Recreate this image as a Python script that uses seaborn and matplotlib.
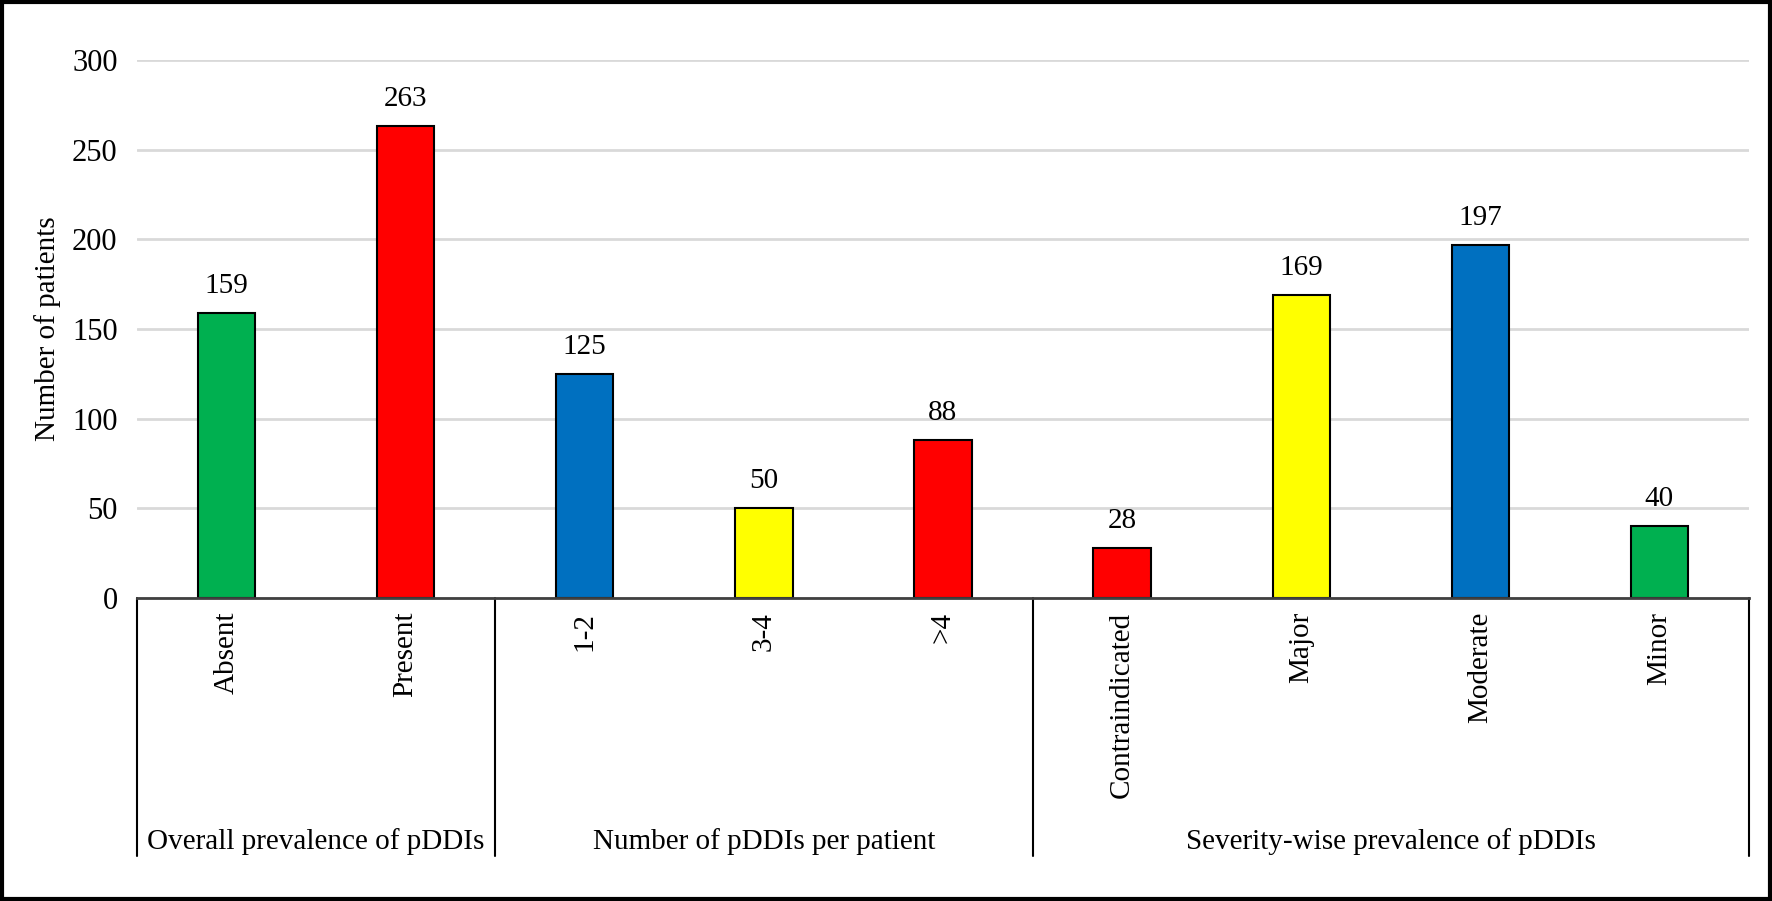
import numpy as np
import pandas as pd
import matplotlib
matplotlib.use("Agg")
import matplotlib.pyplot as plt
from matplotlib.patches import Rectangle
import seaborn as sns

# data
CATEGORIES = ["Absent", "Present", "1-2", "3-4", ">4",
              "Contraindicated", "Major", "Moderate", "Minor"]
COUNTS = [159, 263, 125, 50, 88, 28, 169, 197, 40]
BAR_COLORS = ["#00B050", "#FF0000", "#0070C0", "#FFFF00", "#FF0000",
              "#FF0000", "#FFFF00", "#0070C0", "#00B050"]
GROUPS = ["Overall prevalence of pDDIs", "Number of pDDIs per patient",
          "Severity-wise prevalence of pDDIs"]
GROUP_SIZES = [2, 3, 4]
Y_TICKS = [0, 50, 100, 150, 200, 250, 300]

sns.set_theme(style="white")
plt.rcParams["font.family"] = ["Liberation Serif", "DejaVu Serif"]
plt.rcParams["text.color"] = "black"
plt.rcParams["axes.labelcolor"] = "black"
plt.rcParams["xtick.color"] = "black"
plt.rcParams["ytick.color"] = "black"
FS = 21

df = pd.DataFrame({"category": CATEGORIES, "count": COUNTS})

fig = plt.figure(figsize=(17.72, 9.01), dpi=100)
ax = fig.add_axes([0.0773, 0.3363, 0.9097, 0.5971])

sns.barplot(data=df, x="category", y="count", hue="category",
            palette=BAR_COLORS, saturation=1, legend=False, width=0.32,
            edgecolor="black", linewidth=1.5, ax=ax, zorder=3)

ax.set_ylim(0, 300)
ax.set_xlim(-0.5, len(CATEGORIES) - 0.5)
ax.set_yticks(Y_TICKS)
ax.set_yticklabels([str(t) for t in Y_TICKS], fontsize=22)
ax.tick_params(axis="y", length=0, pad=14)
ax.yaxis.grid(True, color="#d9d9d9", linewidth=2, zorder=0)
ax.set_axisbelow(True)
for s in ["top", "right", "left"]:
    ax.spines[s].set_visible(False)
ax.spines["bottom"].set_color("#404040")
ax.spines["bottom"].set_linewidth(2)
ax.spines["bottom"].set_zorder(4)

ax.set_ylabel("Number of patients", fontsize=FS, labelpad=8)
ax.set_xlabel("")

# category labels, rotated, hanging below the axis
ax.set_xticks(range(len(CATEGORIES)))
ax.set_xticklabels(CATEGORIES, rotation=90, fontsize=FS, va="top")
ax.tick_params(axis="x", length=0, pad=10)

for container in ax.containers:
    ax.bar_label(container, fmt="%d", fontsize=FS, padding=10)

# group separators and group labels below the tick labels
line_bottom = -0.48
edges = np.concatenate([[0], np.cumsum(GROUP_SIZES)]) - 0.5
trans = ax.get_xaxis_transform()
for e in edges:
    ax.plot([e, e], [0, line_bottom], color="black", linewidth=1.5,
            transform=trans, clip_on=False)
for g, lo, hi in zip(GROUPS, edges[:-1], edges[1:]):
    ax.text((lo + hi) / 2, -0.452, g, transform=trans, ha="center",
            va="center", fontsize=FS)

fig.patches.append(Rectangle((0.001, 0.002), 0.998, 0.996,
                             transform=fig.transFigure, fill=False,
                             edgecolor="black", linewidth=3))

fig.savefig("out.png", dpi=100, facecolor="white")
